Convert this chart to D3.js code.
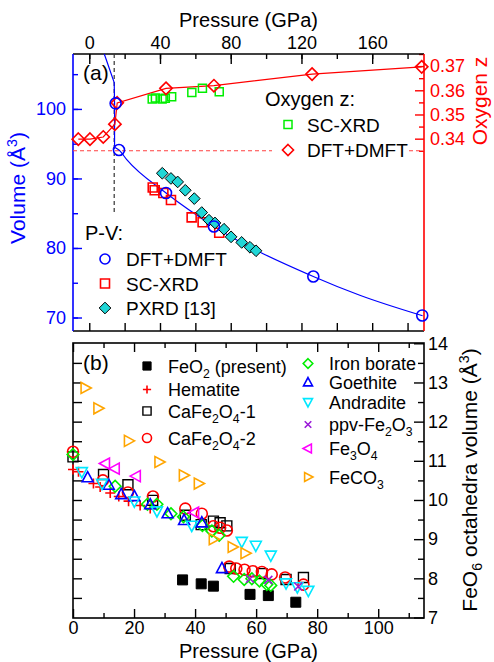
<!DOCTYPE html>
<html>
<head>
<meta charset="utf-8">
<script src="https://cdn.jsdelivr.net/npm/d3@7"></script>
<style>
  body { margin: 0; background: #fff; }
  svg text { font-family: "Liberation Sans", Arial, sans-serif; }
</style>
</head>
<body>
<svg id="chart" width="494" height="662"></svg>
<script>
// ---------- panel (a): P-V ----------
const dmftPVp = [14.9, 16.8, 43.4, 70.5, 126.7, 188.3];
const dmftPVv = [100.8, 94.1, 87.9, 83.1, 75.9, 70.3];
const scxrdPVp = [35.9, 37.0, 41.9, 46.2, 57.9, 64.1, 73.5];
const scxrdPVv = [88.7, 88.3, 87.9, 86.9, 84.4, 83.7, 82.2];
const pxrdP = [41.3, 46.2, 50.0, 54.3, 59.4, 63.6, 67.7, 71.1, 76.2, 80.2, 86.2, 90.9, 94.3];
const pxrdV = [90.75, 90.0, 89.5, 88.3, 87.1, 85.1, 84.0, 83.6, 82.7, 81.6, 80.8, 80.1, 79.6];
// fitted EOS line
const eosHighP = [8.5, 14.1, 14.3, 14.3];
const eosHighV = [107.9, 103.8, 100.8, 94.5];
const eosLowP = [14.3, 16.8, 21.2, 43.4, 70.5, 126.7, 153, 188.5];
const eosLowV = [94.5, 94.1, 92.7, 87.9, 83.1, 75.9, 73.2, 70.25];
const transitionP = 14.1;

// ---------- panel (a): oxygen z ----------
const dmftZp = [-6.2, 0.4, 7.9, 14.5, 15.8, 43.4, 70.5, 126, 188];
const dmftZ = [0.3398, 0.3398, 0.3407, 0.3460, 0.3548, 0.3608, 0.3619, 0.3667, 0.3697];
const scxrdZp = [35.6, 37.4, 41.2, 43.0, 46.6, 58.0, 64.0, 73.5];
const scxrdZ = [0.3564, 0.3568, 0.3564, 0.3567, 0.3573, 0.3591, 0.3608, 0.3594];
const zRef = 0.335;

const topTicks = [0, 40, 80, 120, 160];
const volTicks = [70, 80, 90, 100];
const zTicks = [0.34, 0.35, 0.36, 0.37];

// ---------- panel (b): FeO6 octahedra volume ----------
const feo2P = [35.9, 42.0, 46.0, 58.0, 64.0, 73.0];
const feo2V = [7.96, 7.86, 7.80, 7.59, 7.56, 7.39];
const hematiteP = [0, 1.8, 6.7, 8.9, 12.2, 15.0, 18.2, 22.0, 25.3];
const hematiteV = [10.78, 10.72, 10.42, 10.33, 10.18, 10.09, 9.97, 9.86, 9.78];
const cafe1P = [0, 10.0, 18.0, 26.1, 36.8, 42.0, 46.0, 48.2, 50.4, 51.5, 61.9, 69.8, 75.5];
const cafe1V = [11.10, 10.65, 10.39, 9.99, 9.61, 9.37, 9.46, 9.42, 9.34, 8.25, 8.12, 7.97, 8.02];
const cafe2P = [0, 9.8, 18.0, 26.2, 36.8, 42.2, 46.0, 48.2, 50.4, 51.2, 53.5, 56.2, 58.9, 61.9, 65.1, 69.5, 75.5];
const cafe2V = [11.23, 10.50, 10.19, 10.09, 9.78, 9.65, 9.33, 9.29, 9.22, 8.30, 8.25, 8.22, 8.18, 8.16, 8.10, 8.02, 7.84];
const boratesP = [0, 13.8, 24.4, 27.5, 32.1, 36.2, 42.4, 45.5, 47.9, 52.6, 56.1, 58.6, 61.1, 63.5, 64.8];
const boratesV = [11.16, 10.35, 9.89, 9.89, 9.65, 9.57, 9.35, 9.21, 9.10, 8.05, 7.97, 7.99, 7.93, 7.84, 7.82];
const goethiteP = [4.8, 11.7, 15.8, 20.1, 25.3, 31.0, 36.4, 42.2, 48.8];
const goethiteV = [10.57, 10.38, 10.14, 10.09, 9.88, 9.65, 9.48, 9.42, 8.25];
const andraditeP = [2.9, 9.5, 20.1, 27.5, 38.9, 55.3, 59.9, 64.8, 69.8, 73.5, 77.1];
const andraditeV = [10.72, 10.42, 9.97, 9.72, 9.35, 8.94, 8.84, 8.59, 7.88, 7.78, 7.69];
const ppvP = [58.0, 64.0, 73.8];
const ppvV = [7.99, 7.96, 7.79];
const fe3o4P = [10.6, 13.8, 20.7, 39.8];
const fe3o4V = [10.93, 10.80, 10.61, 9.68];
const feco3P = [4.0, 8.2, 18.2, 28.2, 36.2, 41.1, 46.0, 52.2, 56.4];
const feco3V = [12.86, 12.34, 11.51, 10.97, 10.63, 10.42, 9.00, 8.80, 8.64];

const bottomTicks = [0, 20, 40, 60, 80, 100];
const octTicks = [7, 8, 9, 10, 11, 12, 13, 14];

// ---------- layout ----------
const svg = d3.select('#chart');
const L = 73, R = 424;
const aTop = 54, aBot = 331;
const bTop = 343, bBot = 618;

const xA = d3.scaleLinear().domain([-9.2, 189.3]).range([L, R]);
const yV = d3.scaleLinear().domain([68.06, 107.9]).range([aBot, aTop]);
const yZ = d3.scaleLinear().domain([0.2605, 0.375]).range([aBot, aTop]);
const xB = d3.scaleLinear().domain([0, 115]).range([L, R]);
const yB = d3.scaleLinear().domain([7, 14]).range([617.5, 343.3]);

const BLUE = '#0000ff', RED = '#ff0000', GREEN = '#00ee00', CYAN = '#00e8ff',
      TURQ = '#20d6d6', ORANGE = '#ffa500', MAGENTA = '#ff00ff', VIOLET = '#9a1ad8';

function markerPath(type, s) {
  const h = s / 2;
  switch (type) {
    case 'square': return `M${-h},${-h}h${s}v${s}h${-s}Z`;
    case 'circle': return `M${h},0A${h},${h} 0 1,1 ${-h},0A${h},${h} 0 1,1 ${h},0Z`;
    case 'diamond': { const d = h * 1.3; return `M0,${-d}L${d},0L0,${d}L${-d},0Z`; }
    case 'triUp': return `M0,${-h * 1.1}L${h},${h * 0.75}L${-h},${h * 0.75}Z`;
    case 'triDown': return `M0,${h * 1.1}L${h},${-h * 0.75}L${-h},${-h * 0.75}Z`;
    case 'triLeft': return `M${-h * 1.1},0L${h * 0.75},${-h}L${h * 0.75},${h}Z`;
    case 'triRight': return `M${h * 1.1},0L${-h * 0.75},${-h}L${-h * 0.75},${h}Z`;
    case 'plus': return `M${-h},0H${h}M0,${-h}V${h}`;
    case 'cross': return `M${-h},${-h}L${h},${h}M${h},${-h}L${-h},${h}`;
  }
}

function richText(sel, str) {
  const parts = str.split(/([_^]\{[^}]*\})/).filter(s => s.length);
  let shift = 0;
  parts.forEach(p => {
    const m = p.match(/^([_^])\{(.*)\}$/);
    const t = sel.append('tspan');
    if (m) {
      const d = m[1] === '_' ? 5 : -8;
      t.attr('dy', d - shift).style('font-size', '0.68em').text(m[2]);
      shift = d;
    } else {
      t.attr('dy', -shift).text(p);
      shift = 0;
    }
  });
  return sel;
}

function drawMarkers(g, xs, ys, xScale, yScale, st) {
  g.append('g').selectAll('path')
    .data(xs.map((x, i) => [x, ys[i]]))
    .join('path')
    .attr('transform', d => `translate(${xScale(d[0])},${yScale(d[1])})`)
    .attr('d', markerPath(st.shape, st.size))
    .attr('fill', st.fill || 'none')
    .attr('stroke', st.stroke)
    .attr('stroke-width', st.sw || 1.6);
}

function styleAxis(g, color, fontSize) {
  g.select('.domain').remove();
  g.selectAll('line').attr('stroke', color).attr('stroke-width', 1.4);
  g.selectAll('text').attr('fill', color).style('font-size', fontSize + 'px')
    .style('font-family', '"Liberation Sans", Arial, sans-serif');
}

// ================= PANEL (a) =================
const ga = svg.append('g');

// minor + major ticks
const minorA = d3.range(0, 190, 20);
styleAxis(ga.append('g').attr('transform', `translate(0,${aTop})`)
  .call(d3.axisTop(xA).tickValues(minorA).tickSize(-5).tickFormat('')), '#000', 18);
styleAxis(ga.append('g').attr('transform', `translate(0,${aTop})`)
  .call(d3.axisTop(xA).tickValues(topTicks).tickSize(-10).tickPadding(5)), '#000', 18);
styleAxis(ga.append('g').attr('transform', `translate(0,${aBot})`)
  .call(d3.axisBottom(xA).tickValues(minorA).tickSize(-8).tickFormat('')), '#000', 18);
styleAxis(ga.append('g').attr('transform', `translate(${L},0)`)
  .call(d3.axisLeft(yV).tickValues([70, 75, 80, 85, 90, 95, 100, 105]).tickSize(-5).tickFormat('')), BLUE, 18);
styleAxis(ga.append('g').attr('transform', `translate(${L},0)`)
  .call(d3.axisLeft(yV).tickValues(volTicks).tickSize(-9).tickPadding(7)), BLUE, 18);
styleAxis(ga.append('g').attr('transform', `translate(${R},0)`)
  .call(d3.axisRight(yZ).tickValues([0.335, 0.345, 0.355, 0.365, 0.375]).tickSize(-5).tickFormat('')), RED, 18);
styleAxis(ga.append('g').attr('transform', `translate(${R},0)`)
  .call(d3.axisRight(yZ).tickValues(zTicks).tickSize(-9).tickPadding(6).tickFormat(d3.format('.2f'))), RED, 18);

// frame
ga.append('line').attr('x1', L).attr('x2', R).attr('y1', aTop).attr('y2', aTop).attr('stroke', '#000').attr('stroke-width', 1.5);
ga.append('line').attr('x1', L).attr('x2', R).attr('y1', aBot).attr('y2', aBot).attr('stroke', '#000').attr('stroke-width', 1.5);
ga.append('line').attr('x1', L).attr('x2', L).attr('y1', aTop).attr('y2', aBot).attr('stroke', BLUE).attr('stroke-width', 1.6);
ga.append('line').attr('x1', R).attr('x2', R).attr('y1', aTop).attr('y2', aBot).attr('stroke', RED).attr('stroke-width', 1.6);

// reference lines
ga.append('line')
  .attr('x1', xA(transitionP)).attr('x2', xA(transitionP))
  .attr('y1', aTop).attr('y2', yV(85.0))
  .attr('stroke', '#333').attr('stroke-width', 1.2).attr('stroke-dasharray', '4,3');
ga.append('line')
  .attr('x1', L).attr('x2', R).attr('y1', yZ(zRef)).attr('y2', yZ(zRef))
  .attr('stroke', '#ff4040').attr('stroke-width', 1.2).attr('stroke-dasharray', '4,3');

// EOS line
const lineLin = d3.line().x(d => xA(d[0])).y(d => yV(d[1]));
ga.append('path').datum(eosHighP.map((p, i) => [p, eosHighV[i]]))
  .attr('d', lineLin).attr('fill', 'none').attr('stroke', BLUE).attr('stroke-width', 1.2);
ga.append('path').datum(eosLowP.map((p, i) => [p, eosLowV[i]]))
  .attr('d', lineLin.curve(d3.curveMonotoneX)).attr('fill', 'none').attr('stroke', BLUE).attr('stroke-width', 1.2);

// oxygen z line
ga.append('path').datum(dmftZp.map((p, i) => [p, dmftZ[i]]))
  .attr('d', d3.line().x(d => xA(d[0])).y(d => yZ(d[1])))
  .attr('fill', 'none').attr('stroke', RED).attr('stroke-width', 1.2);

drawMarkers(ga, scxrdZp, scxrdZ, xA, yZ, { shape: 'square', size: 8, stroke: GREEN, sw: 1.5 });
drawMarkers(ga, dmftZp, dmftZ, xA, yZ, { shape: 'diamond', size: 9.5, stroke: RED, sw: 1.6 });
drawMarkers(ga, scxrdPVp, scxrdPVv, xA, yV, { shape: 'square', size: 9, stroke: RED, sw: 1.6 });
drawMarkers(ga, pxrdP, pxrdV, xA, yV, { shape: 'diamond', size: 9, stroke: '#000', fill: TURQ, sw: 1 });
drawMarkers(ga, dmftPVp, dmftPVv, xA, yV, { shape: 'circle', size: 11, stroke: BLUE, sw: 1.6 });

// titles and labels (a)
ga.append('text').attr('x', (L + R) / 2).attr('y', 27).attr('text-anchor', 'middle')
  .style('font-size', '20px').text('Pressure (GPa)');
ga.append('text').attr('x', 83).attr('y', 80).style('font-size', '21px').text('(a)');
richText(ga.append('text').attr('transform', 'translate(25,188) rotate(-90)').attr('text-anchor', 'middle')
  .attr('fill', BLUE).style('font-size', '21px'), 'Volume (Å^{3})');
ga.append('text').attr('transform', 'translate(487,101) rotate(-90)').attr('text-anchor', 'middle')
  .attr('fill', RED).style('font-size', '21px').text('Oxygen z');

// legend: oxygen z
ga.append('rect').attr('x', 272).attr('y', 113).attr('width', 136).attr('height', 46).attr('fill', '#fff');
ga.append('text').attr('x', 265).attr('y', 106).style('font-size', '20px').text('Oxygen z:');
const legZ = [
  { label: 'SC-XRD', st: { shape: 'square', size: 8, stroke: GREEN, sw: 1.5 } },
  { label: 'DFT+DMFT', st: { shape: 'diamond', size: 8.5, stroke: RED, sw: 1.6 } }
];
legZ.forEach((e, i) => {
  const y = 124.5 + i * 25.5;
  ga.append('path').attr('transform', `translate(288,${y})`).attr('d', markerPath(e.st.shape, e.st.size))
    .attr('fill', e.st.fill || 'none').attr('stroke', e.st.stroke).attr('stroke-width', e.st.sw);
  ga.append('text').attr('x', 307).attr('y', y + 7).style('font-size', '19px').text(e.label);
});

// legend: P-V
ga.append('text').attr('x', 85).attr('y', 240).style('font-size', '20px').text('P-V:');
const legPV = [
  { label: 'DFT+DMFT', st: { shape: 'circle', size: 10, stroke: BLUE, sw: 1.6 } },
  { label: 'SC-XRD', st: { shape: 'square', size: 9, stroke: RED, sw: 1.6 } },
  { label: 'PXRD [13]', st: { shape: 'diamond', size: 9, stroke: '#000', fill: TURQ, sw: 1 } }
];
legPV.forEach((e, i) => {
  const y = 259 + i * 24.5;
  ga.append('path').attr('transform', `translate(105,${y})`).attr('d', markerPath(e.st.shape, e.st.size))
    .attr('fill', e.st.fill || 'none').attr('stroke', e.st.stroke).attr('stroke-width', e.st.sw);
  ga.append('text').attr('x', 126).attr('y', y + 7).style('font-size', '19px').text(e.label);
});

// ================= PANEL (b) =================
const gb = svg.append('g');

styleAxis(gb.append('g').attr('transform', `translate(0,${bTop})`)
  .call(d3.axisTop(xB).tickValues(d3.range(10, 115, 20)).tickSize(-5).tickFormat('')), '#000', 18);
styleAxis(gb.append('g').attr('transform', `translate(0,${bTop})`)
  .call(d3.axisTop(xB).tickValues(d3.range(0, 115, 20)).tickSize(-9).tickFormat('')), '#000', 18);
styleAxis(gb.append('g').attr('transform', `translate(0,${bBot})`)
  .call(d3.axisBottom(xB).tickValues(d3.range(10, 115, 20)).tickSize(-5).tickFormat('')), '#000', 18);
styleAxis(gb.append('g').attr('transform', `translate(0,${bBot})`)
  .call(d3.axisBottom(xB).tickValues(bottomTicks).tickSize(-9).tickPadding(3).tickFormat(d3.format('d'))), '#000', 18);
styleAxis(gb.append('g').attr('transform', `translate(${L},0)`)
  .call(d3.axisLeft(yB).tickValues(d3.range(7.5, 14, 0.5)).tickSize(-9).tickFormat('')), '#000', 18);
styleAxis(gb.append('g').attr('transform', `translate(${R},0)`)
  .call(d3.axisRight(yB).tickValues(d3.range(7.5, 14, 1)).tickSize(-6).tickFormat('')), '#000', 18);
styleAxis(gb.append('g').attr('transform', `translate(${R},0)`)
  .call(d3.axisRight(yB).tickValues(octTicks).tickSize(-10).tickPadding(4).tickFormat(d3.format('d'))), '#000', 18);

gb.append('rect').attr('x', L).attr('y', bTop).attr('width', R - L).attr('height', bBot - bTop)
  .attr('fill', 'none').attr('stroke', '#000').attr('stroke-width', 1.6);

const seriesB = [
  { label: 'FeO_{2} (present)', p: feo2P, v: feo2V, st: { shape: 'square', size: 10, stroke: '#000', fill: '#000', sw: 1 } },
  { label: 'Hematite', p: hematiteP, v: hematiteV, st: { shape: 'plus', size: 10, stroke: RED, sw: 1.6 } },
  { label: 'CaFe_{2}O_{4}-1', p: cafe1P, v: cafe1V, st: { shape: 'square', size: 10, stroke: '#000', sw: 1.4 } },
  { label: 'CaFe_{2}O_{4}-2', p: cafe2P, v: cafe2V, st: { shape: 'circle', size: 11, stroke: RED, sw: 1.6 } },
  { label: 'Iron borate', p: boratesP, v: boratesV, st: { shape: 'diamond', size: 9, stroke: GREEN, sw: 1.6 } },
  { label: 'Goethite', p: goethiteP, v: goethiteV, st: { shape: 'triUp', size: 11, stroke: BLUE, sw: 1.6 } },
  { label: 'Andradite', p: andraditeP, v: andraditeV, st: { shape: 'triDown', size: 11, stroke: CYAN, sw: 1.6 } },
  { label: 'ppv-Fe_{2}O_{3}', p: ppvP, v: ppvV, st: { shape: 'cross', size: 8, stroke: VIOLET, sw: 1.6 } },
  { label: 'Fe_{3}O_{4}', p: fe3o4P, v: fe3o4V, st: { shape: 'triLeft', size: 11, stroke: MAGENTA, sw: 1.6 } },
  { label: 'FeCO_{3}', p: feco3P, v: feco3V, st: { shape: 'triRight', size: 11, stroke: ORANGE, sw: 1.6 } }
];
seriesB.forEach(s => drawMarkers(gb, s.p, s.v, xB, yB, s.st));

// legend (b)
const legRowsB = [
  [147, 366], [147, 389.5], [147, 411], [147, 438],
  [308, 363.5], [308, 382.5], [308, 402], [308, 424.5], [308, 448.5], [308, 477]
];
seriesB.forEach((s, i) => {
  const [mx, my] = legRowsB[i];
  const small = Object.assign({}, s.st, { size: s.st.size * 0.82 });
  gb.append('path').attr('transform', `translate(${mx},${my})`).attr('d', markerPath(small.shape, small.size))
    .attr('fill', small.fill || 'none').attr('stroke', small.stroke).attr('stroke-width', small.sw);
  richText(gb.append('text').attr('x', mx + 21).attr('y', my + 6.5).style('font-size', '18px'), s.label);
});

gb.append('text').attr('x', 83).attr('y', 370).style('font-size', '21px').text('(b)');
gb.append('text').attr('x', (L + R) / 2).attr('y', 658).attr('text-anchor', 'middle')
  .style('font-size', '20px').text('Pressure (GPa)');
richText(gb.append('text').attr('transform', 'translate(477,480) rotate(-90)').attr('text-anchor', 'middle')
  .style('font-size', '21px'), 'FeO_{6} octahedra volume (Å^{3})');
</script>
</body>
</html>
